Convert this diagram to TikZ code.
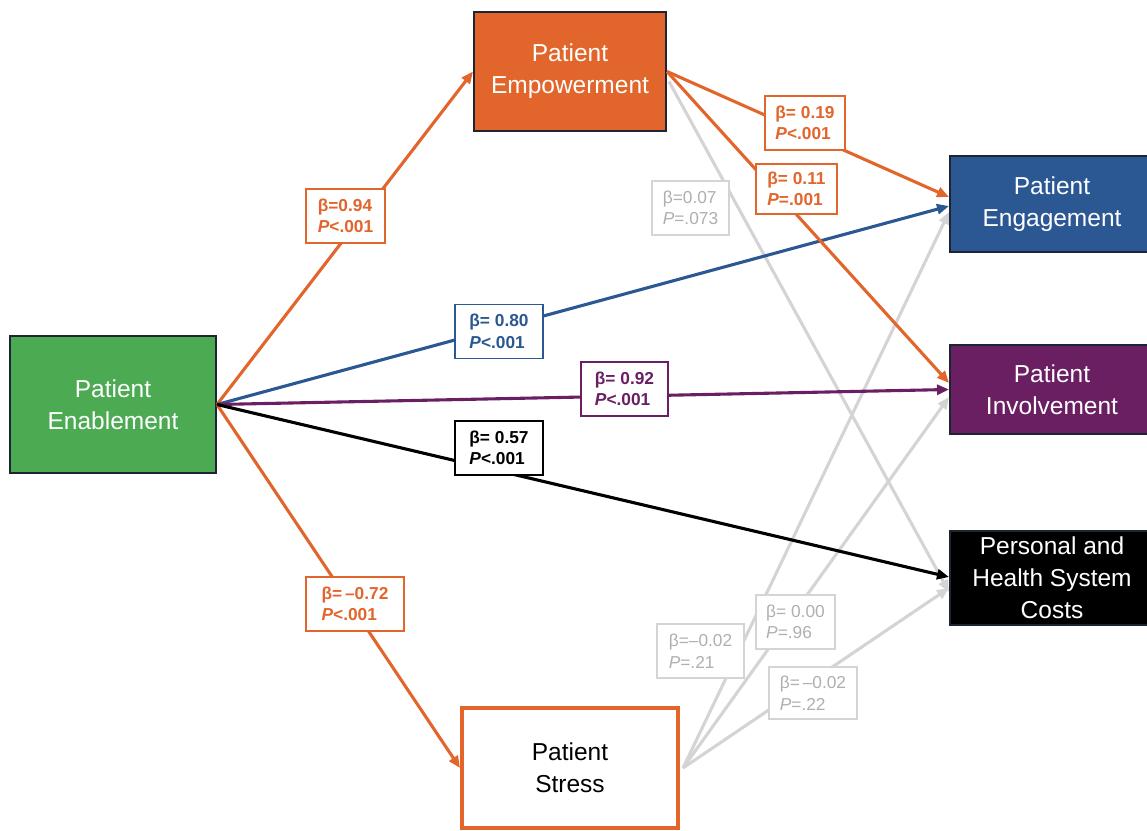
\documentclass[tikz,border=0pt]{standalone}
\usepackage{fontspec}
\setmainfont{Liberation Sans}
\usetikzlibrary{arrows.meta}
\definecolor{cgreen}{HTML}{4BAA52}
\definecolor{corange}{HTML}{E2652B}
\definecolor{cblue}{HTML}{2B5893}
\definecolor{cpurple}{HTML}{6A1F63}
\definecolor{cborder}{HTML}{1C2533}
\definecolor{cgrey}{HTML}{D4D4D4}
\definecolor{cgreytext}{HTML}{AFAFAF}
\begin{document}
\begin{tikzpicture}[x=1pt,y=-1pt,
  box/.style={draw=cborder, line width=2pt, text=white, align=center, inner sep=0pt,
    font=\fontsize{24.5}{32}\selectfont},
  lab/.style={draw, fill=white, line width=1.2pt, align=left, inner sep=0pt,
    minimum height=54pt, font=\bfseries\fontsize{17.3}{21.5}\selectfont},
  glab/.style={lab, draw=cgrey, text=cgreytext, font=\fontsize{17.3}{21.5}\selectfont},
  arr/.style={line width=3.1pt, -{Triangle[length=12pt,width=10pt]}},
  garr/.style={arr, draw=cgrey}]
\useasboundingbox (0,0) rectangle (1147,830);

% boxes
\node[box, fill=cgreen, minimum width=206pt, minimum height=137pt] (ena) at (113,404.5) {Patient\\Enablement};
\node[box, fill=corange, minimum width=192pt, minimum height=119pt] (emp) at (570,71.5) {Patient\\Empowerment};
\node[box, fill=cblue, minimum width=204pt, minimum height=96pt] (eng) at (1052,204) {Patient\\Engagement};
\node[box, fill=cpurple, minimum width=204pt, minimum height=89pt] (inv) at (1052,389.5) {Patient\\Involvement};
\node[box, fill=black, minimum width=204pt, minimum height=94pt] (cos) at (1052,578) {Personal and\\Health System\\Costs};
\node[box, draw=corange, line width=4pt, fill=white, text=black, minimum width=216pt, minimum height=120pt] (str) at (570,768) {Patient\\Stress};

% grey connectors
\draw[garr] ([xshift=2pt,yshift=-10pt]emp.east) -- ([yshift=-14pt]cos.west);
\draw[garr] ([xshift=3pt]str.east) -- ([yshift=-8pt]eng.west);
\draw[garr] ([xshift=3pt]str.east) -- ([yshift=-7.5pt]inv.west);
\draw[garr] ([xshift=3pt]str.east) -- ([yshift=-10pt]cos.west);

% coloured connectors
\draw[arr, draw=corange] (ena.east) -- (emp.west);
\draw[arr, draw=corange] (ena.east) -- (str.west);
\draw[arr, draw=cblue] (ena.east) -- ([yshift=-2pt]eng.west);
\draw[arr, draw=cpurple] (ena.east) -- (inv.west);
\draw[arr, draw=black] (ena.east) -- ([yshift=1pt]cos.west);
\draw[arr, draw=corange] (emp.east) -- ([yshift=7pt]eng.west);
\draw[arr, draw=corange] (emp.east) -- ([yshift=6.5pt]inv.west);

% labels
\node[lab, draw=corange, text=corange, minimum width=79pt] (l1) at (345.5,216) {β=0.94\\\textit{P}<.001};
\node[lab, draw=corange, text=corange, minimum width=98pt] (l2) at (355,604) {β=\,\textendash 0.72\\\textit{P}<.001};
\node[lab, draw=cblue, text=cblue, minimum width=88pt] (l3) at (499,331.5) {β= 0.80\\\textit{P}<.001};
\node[lab, draw=cpurple, text=cpurple, minimum width=87pt] (l4) at (624.5,389) {β= 0.92\\\textit{P}<.001};
\node[lab, draw=black, text=black, minimum width=88pt] (l5) at (499,448) {β= 0.57\\\textit{P}<.001};
\node[lab, draw=corange, text=corange, minimum width=80pt] (l6) at (805,123) {β= 0.19\\\textit{P}<.001};
\node[lab, draw=corange, text=corange, minimum width=81pt, minimum height=50pt] (l7) at (796.5,189) {β= 0.11\\\textit{P}=.001};
\node[glab, minimum width=77pt] (l8) at (690.5,208) {β=0.07\\\textit{P}=.073};
\node[glab, minimum width=87pt] (l9) at (700.5,651) {β=\textendash 0.02\\\textit{P}=.21};
\node[glab, minimum width=79pt] (l10) at (795.5,622) {β= 0.00\\\textit{P}=.96};
\node[glab, minimum width=88pt, minimum height=52pt] (l11) at (813,693) {β=\,\textendash 0.02\\\textit{P}=.22};
\end{tikzpicture}
\end{document}
